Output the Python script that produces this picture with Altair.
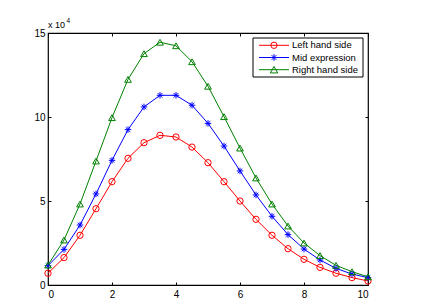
import altair as alt
import pandas as pd

# ---- data ----
x_vals = [0, 0.5, 1, 1.5, 2, 2.5, 3, 3.5, 4, 4.5, 5, 5.5, 6, 6.5, 7, 7.5, 8, 8.5, 9, 9.5, 10]
left_hand = [7000, 16300, 29600, 45400, 61500, 75400, 84700, 89100, 88100, 82100, 72800,
             61500, 50000, 39100, 29600, 21600, 15300, 10500, 7000, 4400, 2400]
mid_expr = [11500, 21200, 35700, 54200, 74200, 92500, 106000, 112900, 112900, 107000, 96200,
            82700, 67900, 53600, 40900, 30000, 21400, 14900, 9900, 6500, 4400]
right_hand = [11900, 26800, 48200, 73800, 99600, 122400, 137700, 144500, 142400, 132900, 118300,
              100200, 81500, 63700, 48200, 35100, 25000, 17500, 11700, 7900, 4900]

series_names = ["Left hand side", "Mid expression", "Right hand side"]
series_colors = ["#ff0000", "#0000ff", "#008000"]
x_ticks = [0, 2, 4, 6, 8, 10]
y_ticks = [0, 50000, 100000, 150000]
exponent_base = "x 10"
exponent_power = "4"

asterisk = "M-1,0L1,0M0,-1L0,1M-0.7,-0.7L0.7,0.7M-0.7,0.7L0.7,-0.7"
series_shapes = ["circle", asterisk, "triangle-up"]
series_sizes = [40, 45, 55]

rows = []
for name, vals in zip(series_names, [left_hand, mid_expr, right_hand]):
    for xv, yv in zip(x_vals, vals):
        rows.append({"x": xv, "y": yv, "series": name})
df = pd.DataFrame(rows)

FONT = "Liberation Sans"
xs = alt.Scale(domain=[0, 10], nice=False)
ys = alt.Scale(domain=[0, 150000], nice=False)
color = alt.Color("series:N", scale=alt.Scale(domain=series_names, range=series_colors), legend=None)

axis_common = dict(tickSize=3, offset=-3, domain=False, grid=False, title=None,
                   tickColor="black", tickWidth=1, labelFont=FONT, labelFontSize=10,
                   labelColor="black")

base = alt.Chart(df)
lines = base.mark_line(strokeWidth=1).encode(
    x=alt.X("x:Q", scale=xs, axis=alt.Axis(orient="bottom", values=x_ticks, labelPadding=4, **axis_common)),
    y=alt.Y("y:Q", scale=ys, axis=alt.Axis(orient="left", values=y_ticks, labelPadding=3,
                                           labelExpr="datum.value / 10000", **axis_common)),
    color=color,
)
points = base.mark_point(filled=False, strokeWidth=1, opacity=1).encode(
    x=alt.X("x:Q", scale=xs, axis=alt.Axis(orient="top", values=x_ticks, labels=False, **axis_common)),
    y=alt.Y("y:Q", scale=ys, axis=alt.Axis(orient="right", values=y_ticks, labels=False, **axis_common)),
    color=color,
    shape=alt.Shape("series:N", scale=alt.Scale(domain=series_names, range=series_shapes), legend=None),
    size=alt.Size("series:O", scale=alt.Scale(domain=series_names, range=series_sizes), legend=None),
)

one = pd.DataFrame({"k": [0]})
layers = [lines, points]

# legend box
layers.append(alt.Chart(one).mark_rect(fill="white", stroke="black", strokeWidth=1).encode(
    x=alt.value(205), x2=alt.value(315), y=alt.value(5), y2=alt.value(44)))
for i, (name, c, shp, sz) in enumerate(zip(series_names, series_colors, series_shapes, series_sizes)):
    yy = 12.3 + i * 12.2
    d = pd.DataFrame({"series": [name]})
    layers.append(alt.Chart(d).mark_rule(color=c, strokeWidth=1).encode(
        x=alt.value(211), x2=alt.value(241), y=alt.value(yy)))
    layers.append(alt.Chart(d).mark_point(shape=shp, size=sz, color=c, filled=False, strokeWidth=1, opacity=1).encode(
        x=alt.value(226), y=alt.value(yy)))
    layers.append(alt.Chart(d).mark_text(align="left", baseline="middle", font=FONT, fontSize=9.5, color="black").encode(
        x=alt.value(244), y=alt.value(yy), text="series:N"))

# exponent label
layers.append(alt.Chart(pd.DataFrame({"t": [exponent_base]})).mark_text(
    align="left", baseline="alphabetic", font=FONT, fontSize=9, color="black").encode(
    x=alt.value(0), y=alt.value(-5), text="t:N"))
layers.append(alt.Chart(pd.DataFrame({"t": [exponent_power]})).mark_text(
    align="left", baseline="alphabetic", font=FONT, fontSize=6.5, color="black").encode(
    x=alt.value(18.5), y=alt.value(-10), text="t:N"))

chart = alt.layer(*layers).resolve_axis(x="independent", y="independent").properties(
    width=320, height=252,
    autosize=alt.AutoSizeParams(type="none"),
    padding={"left": 40, "top": 25, "right": 10, "bottom": 17},
).configure_view(stroke="black", strokeWidth=1.2)

chart.save("out.html", embed_options={"renderer": "svg", "actions": False})
